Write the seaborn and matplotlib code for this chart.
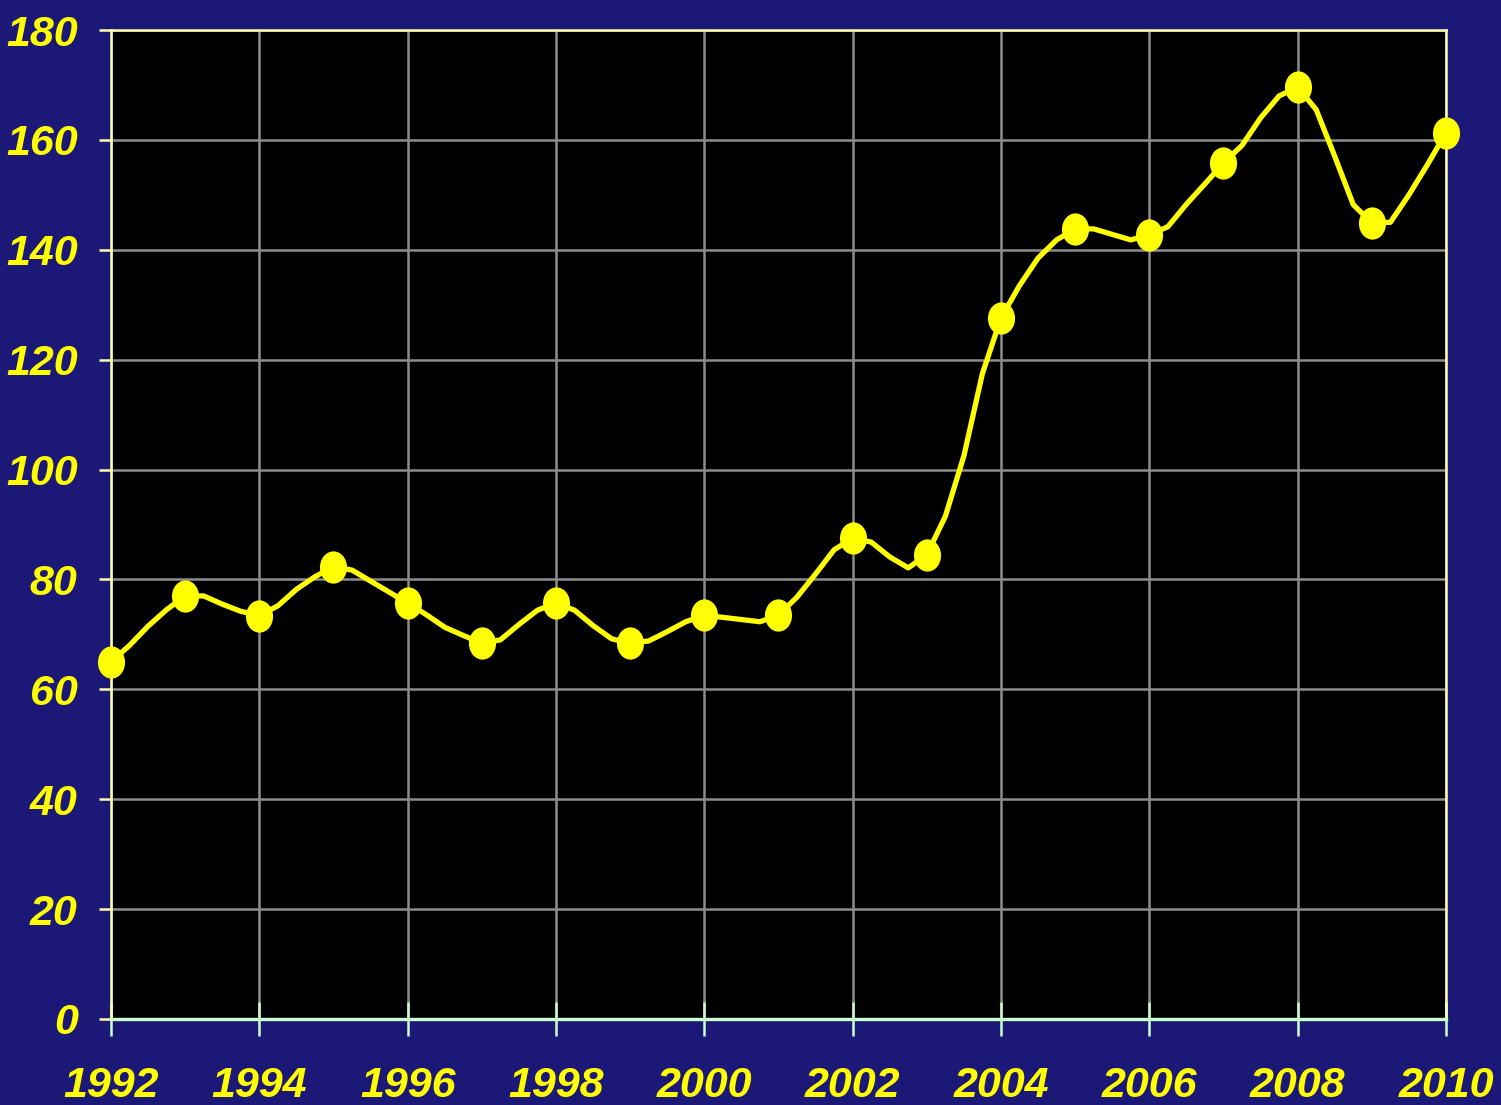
import numpy as np
import pandas as pd
import matplotlib
matplotlib.use("Agg")
import matplotlib.pyplot as plt
from matplotlib.path import Path
import seaborn as sns

# ---- data ----
years = [1992, 1993, 1994, 1995, 1996, 1997, 1998, 1999, 2000, 2001,
         2002, 2003, 2004, 2005, 2006, 2007, 2008, 2009, 2010]
annual_values = [65.0, 77.0, 73.4, 82.3, 75.7, 68.4, 75.7, 68.4, 73.5, 73.5,
                 87.5, 84.5, 127.6, 143.8, 142.7, 155.8, 169.6, 144.9, 161.3]

quarter_times = [1992.00, 1992.25, 1992.50, 1992.75,
                 1993.00, 1993.25, 1993.50, 1993.75,
                 1994.00, 1994.25, 1994.50, 1994.75,
                 1995.00, 1995.25, 1995.50, 1995.75,
                 1996.00, 1996.25, 1996.50, 1996.75,
                 1997.00, 1997.25, 1997.50, 1997.75,
                 1998.00, 1998.25, 1998.50, 1998.75,
                 1999.00, 1999.25, 1999.50, 1999.75,
                 2000.00, 2000.25, 2000.50, 2000.75,
                 2001.00, 2001.25, 2001.50, 2001.75,
                 2002.00, 2002.25, 2002.50, 2002.75,
                 2003.00, 2003.25, 2003.50, 2003.75,
                 2004.00, 2004.25, 2004.50, 2004.75,
                 2005.00, 2005.25, 2005.50, 2005.75,
                 2006.00, 2006.25, 2006.50, 2006.75,
                 2007.00, 2007.25, 2007.50, 2007.75,
                 2008.00, 2008.25, 2008.50, 2008.75,
                 2009.00, 2009.25, 2009.50, 2009.75,
                 2010.00]
quarter_values = [65.0, 68.0, 71.5, 74.5,
                  77.0, 77.0, 75.5, 74.2,
                  73.4, 75.2, 78.2, 80.5,
                  82.3, 81.7, 79.7, 77.7,
                  75.7, 73.6, 71.3, 69.8,
                  68.4, 69.0, 71.8, 74.4,
                  75.7, 74.4, 71.6, 69.2,
                  68.4, 68.8, 70.5, 72.3,
                  73.5, 73.1, 72.7, 72.3,
                  73.5, 76.8, 81.0, 85.4,
                  87.5, 86.8, 84.1, 82.1,
                  84.5, 91.5, 102.5, 117.5,
                  127.6, 133.5, 138.5, 141.8,
                  143.8, 143.8, 142.8, 141.8,
                  142.7, 144.2, 148.3, 152.0,
                  155.8, 159.0, 164.0, 168.0,
                  169.6, 165.5, 157.0, 148.2,
                  144.9, 145.0, 150.0, 155.5,
                  161.3]

x_ticks = [1992, 1994, 1996, 1998, 2000, 2002, 2004, 2006, 2008, 2010]
y_ticks = [0, 20, 40, 60, 80, 100, 120, 140, 160, 180]

# ---- style ----
NAVY = "#1b1878"
YELLOW = "#ffff00"
GRID = "#8c8c8c"
PALE_Y = "#ffffa8"
PALE_G = "#ccffcc"

sns.set_theme(style="dark")
plt.rcParams["font.family"] = ["Liberation Sans", "DejaVu Sans"]

W, H = 1501, 1105
fig = plt.figure(figsize=(W / 100, H / 100), dpi=100, facecolor=NAVY)
ax = fig.add_axes([111 / W, 1 - 1019 / H, (1446 - 111) / W, (1019 - 30) / H])
ax.set_facecolor("black")

df_line = pd.DataFrame({"t": quarter_times, "v": quarter_values})
df_pts = pd.DataFrame({"t": years, "v": annual_values})

sns.lineplot(data=df_line, x="t", y="v", ax=ax, color=YELLOW, linewidth=3.8,
             estimator=None, sort=False, zorder=3)

circ = Path.unit_circle()
ell = Path(circ.vertices * np.array([0.84, 1.0]), circ.codes)
sns.scatterplot(data=df_pts, x="t", y="v", ax=ax, color=YELLOW, marker=ell,
                s=540, linewidth=0, zorder=4, clip_on=False)

ax.set_xlim(1992, 2010)
ax.set_ylim(0, 180)
ax.set_xticks(x_ticks)
ax.set_yticks(y_ticks)
ax.set_xticklabels([str(v) for v in x_ticks])
ax.set_yticklabels([str(v) for v in y_ticks])
ax.set_xlabel("")
ax.set_ylabel("")

ax.grid(True, color=GRID, linewidth=1.8, zorder=1)
ax.set_axisbelow(True)

for side in ["left", "top", "right"]:
    ax.spines[side].set_visible(True)
    ax.spines[side].set_color(PALE_Y)
    ax.spines[side].set_linewidth(1.8)
ax.spines["bottom"].set_visible(True)
ax.spines["bottom"].set_color(PALE_G)
ax.spines["bottom"].set_linewidth(2.4)

ax.tick_params(axis="y", which="major", direction="out", length=9, width=1.8,
               color=PALE_Y, pad=15, left=True, labelcolor=YELLOW, labelsize=31)
ax.tick_params(axis="x", which="major", direction="inout", length=24, width=1.8,
               color=PALE_G, pad=22, bottom=True, labelcolor=YELLOW, labelsize=31)
for lab in ax.get_xticklabels() + ax.get_yticklabels():
    lab.set_fontweight("bold")
    lab.set_fontstyle("italic")

fig.savefig("out.png", dpi=100, facecolor=NAVY)
